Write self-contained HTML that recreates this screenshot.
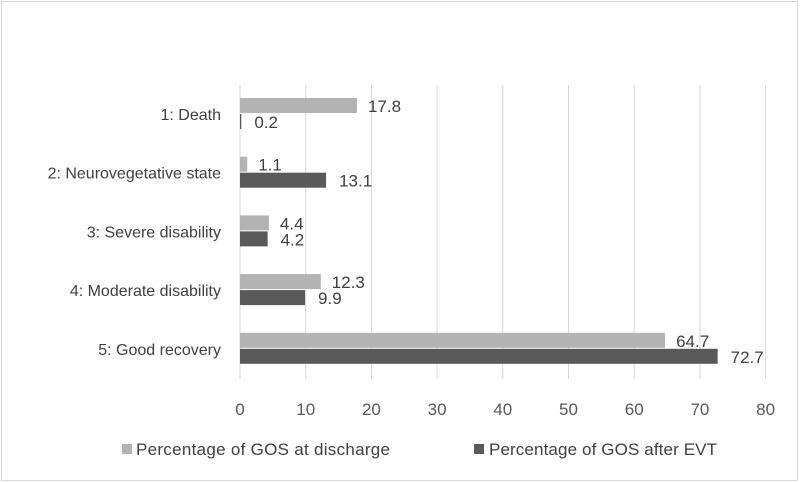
<!DOCTYPE html>
<html><head><meta charset="utf-8"><style>
body{margin:0;background:#fff}
svg{display:block;font-family:"Liberation Sans",Arial,sans-serif}
</style></head><body>
<svg id="c" width="800" height="483">
<rect x="1.5" y="1.5" width="796" height="479" fill="#fff" stroke="#d9d9d9"/>
<g id="grid"></g><g id="bars"></g><g id="labels"></g>
<g>
<rect x="122" y="444" width="10" height="10" fill="#b3b3b3"/>
<text x="136" y="455" font-size="17" fill="#404040" textLength="254">Percentage of GOS at discharge</text>
<rect x="474" y="444" width="10" height="10" fill="#595959"/>
<text x="489" y="455" font-size="17" fill="#404040" textLength="228">Percentage of GOS after EVT</text>
</g>
</svg>
<script>
const categories=["1: Death","2: Neurovegetative state","3: Severe disability","4: Moderate disability","5: Good recovery"];
const discharge=[17.8,1.1,4.4,12.3,64.7];
const afterEVT=[0.2,13.1,4.2,9.9,72.7];
const ticks=[0,10,20,30,40,50,60,70,80];
const NS="http://www.w3.org/2000/svg";
const x=v=>240+v*(525.6/80);
const yc=i=>114+i*58.7;
function mk(tag,attrs,parent,txt){const e=document.createElementNS(NS,tag);for(const k in attrs)e.setAttribute(k,attrs[k]);if(txt!==undefined)e.textContent=txt;document.getElementById(parent).appendChild(e);return e;}
ticks.forEach(t=>{
 const l=mk('line',{x1:x(t),x2:x(t),y1:85,y2:379,stroke:'#d9d9d9','stroke-width':1},'grid');
 
 
 const tx=mk('text',{x:x(t),y:415,'font-size':17,fill:'#595959','text-anchor':'middle'},'labels',String(t));
 
 
});
categories.forEach((c,i)=>{
 const cy=yc(i);
 const ct=mk('text',{x:221,y:cy+6,'font-size':16,fill:'#404040','text-anchor':'end'},'labels',c);
 
 
 const b1=mk('rect',{x:x(0),y:cy-16,width:x(discharge[i])-x(0),height:15,fill:'#b3b3b3'},'bars');
 
 
 const b2=mk('rect',{x:x(0),y:cy,width:x(afterEVT[i])-x(0),height:15,fill:'#595959'},'bars');
 
 
 const v1=mk('text',{x:x(discharge[i])+11,y:cy-2,'font-size':17,fill:'#404040'},'labels',discharge[i].toFixed(1));
 
 
 const v2=mk('text',{x:x(afterEVT[i])+13,y:cy+14,'font-size':17,fill:'#404040'},'labels',afterEVT[i].toFixed(1));
 
 
});
</script>
</body></html>
